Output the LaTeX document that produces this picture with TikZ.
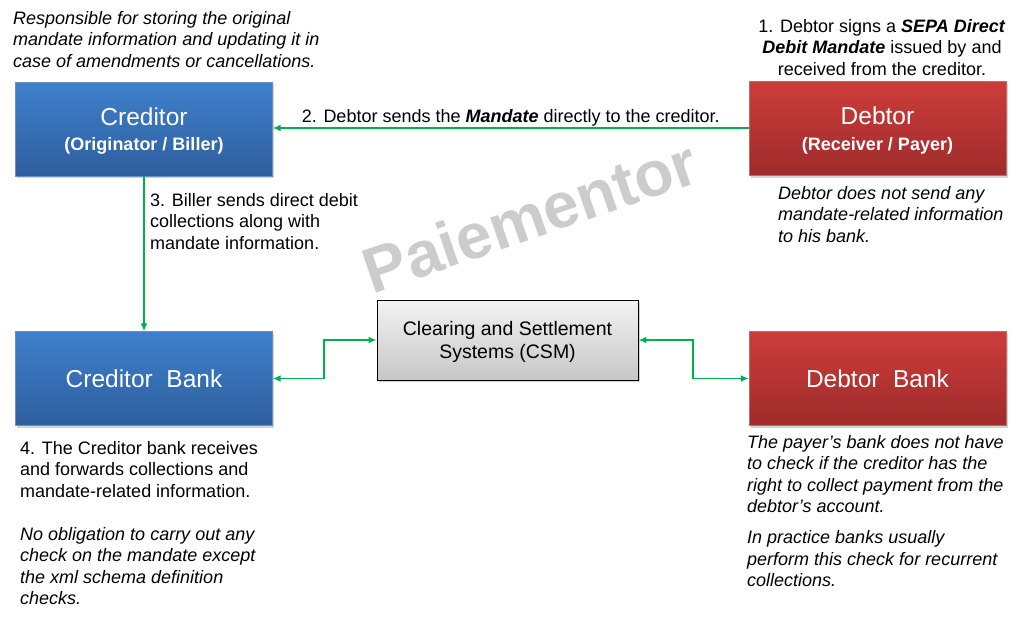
\documentclass[tikz,border=0pt]{standalone}
\usepackage{fontspec}
\setmainfont{Liberation Sans}
\usepackage{xcolor}
\usetikzlibrary{arrows,arrows.meta,shadows}

\definecolor{credTop}{HTML}{3F80CC}
\definecolor{credBot}{HTML}{2E5E9E}
\definecolor{debtTop}{HTML}{CD3D3A}
\definecolor{debtBot}{HTML}{9E2B2B}
\definecolor{linkGreen}{HTML}{00B050}

\newcommand{\bodyfont}{\fontsize{18}{21.5}\selectfont}
\newcommand{\titlefont}{\fontsize{24.5}{28}\selectfont}

\begin{document}
\begin{tikzpicture}[
    x=1pt, y=-1pt,
    > = {Latex[length=8pt,width=7pt]}, % arrow head style
    party/.style={minimum width=257pt, minimum height=94pt, align=center, text=white,
        inner sep=0pt, drop shadow={opacity=0.35, shadow xshift=1.5pt, shadow yshift=-2pt}},
    creditorbox/.style={party, top color=credTop, bottom color=credBot, draw=credBot!70},
    debtorbox/.style={party, top color=debtTop, bottom color=debtBot, draw=debtBot!70},
    csmbox/.style={minimum width=261pt, minimum height=80pt, align=center, inner sep=0pt,
        top color=white!95!black, bottom color=black!22, draw=black, line width=0.9pt,
        text depth=0pt, font=\fontsize{19.5}{23}\selectfont,
        drop shadow={opacity=0.35, shadow xshift=1.5pt, shadow yshift=-2pt}},
    note/.style={align=left, inner sep=0pt, anchor=north west, font=\bodyfont},
    markfont/.style={rotate=19, font=\fontsize{64}{64}\selectfont\bfseries},
    link/.style={draw=linkGreen, line width=1.7pt}
]
\useasboundingbox (0,0) rectangle (1024,622);

% Watermark
\node[markfont, text=black!20] (mark) at (530,216) {Paiementor};

% Nodes
\node[creditorbox, text depth=0pt] (creditor) at (144,129) {{\titlefont Creditor}\\[11pt] {\bodyfont\bfseries (Originator / Biller)}};
\node[debtorbox, text depth=0pt] (debtor) at (877.5,128.5) {{\titlefont Debtor}\\[11pt] {\bodyfont\bfseries (Receiver / Payer)}};
\node[creditorbox] (crbank) at (144,378.5) {\titlefont Creditor\ \ Bank};
\node[debtorbox] (dbbank) at (877.5,378.5) {\titlefont Debtor\ \ Bank};
\node[csmbox] (csm) at (507.5,340) {Clearing and Settlement\\ Systems (CSM)};

% Notes
\node[note, font=\bodyfont\itshape] (crnote) at (13,11) {Responsible for storing the original\\ mandate information and updating it in\\ case of amendments or cancellations.};
\node[note, align=center, anchor=north] (dbsign) at (882,19) {1. Debtor signs a \textbf{\textit{SEPA Direct}}\\ \textbf{\textit{Debit Mandate}} issued by and\\ received from the creditor.};
\node[note, font=\bodyfont\itshape] (dbnote) at (778,186) {Debtor does not send any\\ mandate-related information\\ to his bank.};
\node[note] (crbknote) at (20,441) {4. The Creditor bank receives\\ and forwards collections and\\ mandate-related information.\\[21.5pt]
    \itshape No obligation to carry out any\\ \itshape check on the mandate except\\ \itshape the xml schema definition\\ \itshape checks.};
\node[note, font=\bodyfont\itshape] (dbbknote) at (747,435) {The payer's bank does not have\\ to check if the creditor has the\\ right to collect payment from the\\ debtor's account.\\[9.5pt]
    In practice banks usually\\ perform this check for recurrent\\ collections.};

% Edges
\draw[link, ->] (debtor.west |- 0,128) -- node[above=-2pt, font=\bodyfont, text=black] {2. Debtor sends the \textbf{\textit{Mandate}} directly to the creditor.} (creditor.east |- 0,128);
\draw[link, ->] (creditor.south) -- (crbank.north);
\node[note] (billnote) at (150,193) {3. Biller sends direct debit\\ collections along with\\ mandate information.};
\draw[link, <->] (crbank.east) -- (324,378.5) |- (csm.west);
\draw[link, <->] (csm.east) -- (693,340) |- (dbbank.west);

\end{tikzpicture}
\end{document}
